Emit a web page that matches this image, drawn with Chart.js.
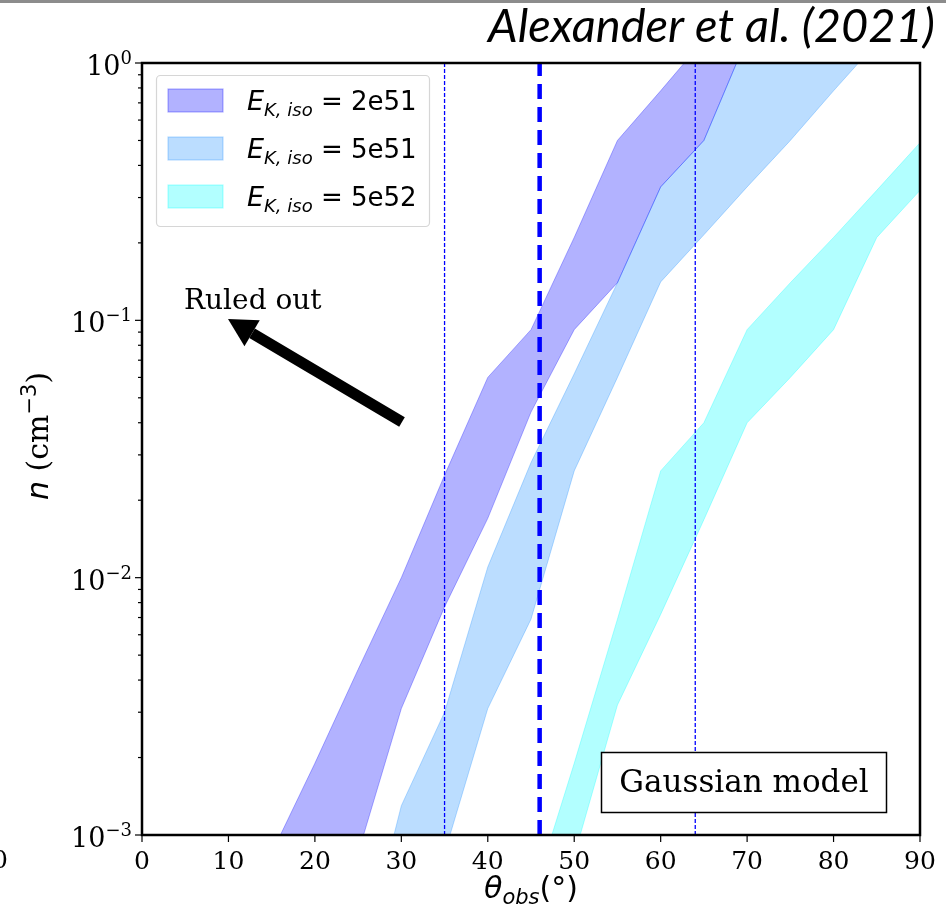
<!DOCTYPE html>
<html>
<head>
<meta charset="utf-8">
<script src="https://cdn.jsdelivr.net/npm/chart.js@4.4.1/dist/chart.umd.min.js"></script>
<style>
  html, body { margin: 0; padding: 0; background: #fff; }
  canvas { display: block; }
</style>
</head>
<body>
<canvas id="densityChart" width="946" height="914"></canvas>
<script>
// allowed density band (cm^-3) vs viewing angle (deg), one per E_K,iso
const angles2e51 = [15, 20, 25, 30, 35, 40, 45, 50, 55, 60, 65, 70]
const upper2e51 = [0.00085, 0.0019, 0.0044, 0.010, 0.025, 0.060, 0.092, 0.21, 0.50, 0.78, 1.23, 1.9]
const lower2e51 = [0.00006, 0.00023, 0.00085, 0.0031, 0.0077, 0.017, 0.044, 0.092, 0.14, 0.33, 0.50, 1.25]

const angles5e51 = [25, 30, 35, 40, 45, 50, 55, 60, 65, 70, 75, 80, 85]
const upper5e51 = [0.00028, 0.0013, 0.003, 0.011, 0.028, 0.062, 0.14, 0.33, 0.50, 1.25, 2, 3, 4]
const lower5e51 = [0.00003, 0.00025, 0.00085, 0.0031, 0.0069, 0.026, 0.06, 0.141, 0.215, 0.33, 0.50, 0.78, 1.2]

const angles5e52 = [45, 50, 55, 60, 65, 70, 75, 80, 85, 90]
const upper5e52 = [0.00055, 0.0019, 0.0069, 0.026, 0.04, 0.092, 0.14, 0.21, 0.32, 0.49]
const lower5e52 = [0.0001, 0.00083, 0.0032, 0.0072, 0.0168, 0.04, 0.06, 0.092, 0.21, 0.32]

const energyLabels = ["2e51", "5e51", "5e52"]

// viewing angle constraints
const limitAngles = [35, 64]
const bestAngle = 46
const nRange = [0.001, 1]

// axis ticks
const angleTicks = [0, 10, 20, 30, 40, 50, 60, 70, 80, 90]
const densityTicks = [0.001, 0.01, 0.1, 1]

const bandColors = ["rgba(0, 0, 255, 0.3)", "rgba(30, 144, 255, 0.3)", "rgba(0, 255, 255, 0.3)"]

const toPoints = (xs, ys) => xs.map((x, i) => ({ x: x, y: ys[i] }))

function bandSets(xs, up, low, color, name) {
  return [
    { label: name, data: toPoints(xs, up), borderColor: color, backgroundColor: color, borderWidth: 1, fill: "+1" },
    { label: name + " low", data: toPoints(xs, low), borderColor: color, borderWidth: 1, fill: false },
  ]
}

const vlines = limitAngles.map((a) => ({
  data: nRange.map((n) => ({ x: a, y: n })),
  borderColor: "#0000ff",
  borderWidth: 1.3,
  borderDash: [4, 2],
  fill: false,
}))
vlines.push({
  data: nRange.map((n) => ({ x: bestAngle, y: n })),
  borderColor: "#0000ff",
  borderWidth: 4.5,
  borderDash: [15, 8],
  fill: false,
})

function drawRuns(ctx, x, y, runs) {
  let cx = x
  runs.forEach((r) => {
    ctx.font = r.font
    ctx.fillText(r.text, cx, y + (r.dy || 0))
    cx += ctx.measureText(r.text).width
  })
  return cx
}
function runsWidth(ctx, runs) {
  let w = 0
  runs.forEach((r) => {
    ctx.font = r.font
    w += ctx.measureText(r.text).width
  })
  return w
}
function seg(ctx, x1, y1, x2, y2) {
  ctx.beginPath()
  ctx.moveTo(x1, y1)
  ctx.lineTo(x2, y2)
  ctx.stroke()
}

const decor = {
  id: "decor",
  afterDraw(chart) {
    const { ctx, chartArea: a } = chart
    const x = chart.scales.x
    const y = chart.scales.y
    ctx.save()
    ctx.fillStyle = "#000"
    ctx.strokeStyle = "#000"
    ctx.textAlign = "left"
    ctx.textBaseline = "alphabetic"

    // top grey strip and citation
    ctx.fillStyle = "#8c8c8c"
    ctx.fillRect(0, 0, 946, 3)
    ctx.fillStyle = "#000"
    ctx.font = "italic 47px Lato"
    ctx.textAlign = "right"
    ctx.fillText("Alexander et al. (2021)", 935, 42, 447)
    ctx.textAlign = "left"

    // frame
    ctx.lineWidth = 2.5
    ctx.strokeRect(a.left, a.top, a.right - a.left, a.bottom - a.top)

    // x ticks
    ctx.lineWidth = 1.2
    ctx.font = '25px "DejaVu Serif"'
    ctx.textAlign = "center"
    angleTicks.forEach((v) => {
      const px = x.getPixelForValue(v)
      seg(ctx, px, a.bottom, px, a.bottom + 7)
      ctx.fillText(String(v), px, a.bottom + 34)
    })
    ctx.textAlign = "left"

    // y ticks, minor then major
    for (let i = 0; i < densityTicks.length - 1; i++) {
      for (let m = 2; m <= 9; m++) {
        const py = y.getPixelForValue(densityTicks[i] * m)
        seg(ctx, a.left - 4, py, a.left, py)
      }
    }
    densityTicks.forEach((v) => {
      const py = y.getPixelForValue(v)
      seg(ctx, a.left - 7, py, a.left, py)
      const exp = String(Math.round(Math.log10(v))).replace("-", "\u2212")
      const runs = [
        { text: "10", font: '27px "DejaVu Serif"' },
        { text: exp, font: '18px "DejaVu Serif"', dy: -11 },
      ]
      const w = runsWidth(ctx, runs)
      drawRuns(ctx, a.left - 10 - w, py + 12, runs)
    })
    // stray label from the neighbouring panel
    ctx.font = '25px "DejaVu Serif"'
    ctx.fillText("0", -8, 868)

    // axis titles
    const xt = [
      { text: "\u03b8", font: 'italic 30px "DejaVu Sans"' },
      { text: "obs", font: 'italic 21px "DejaVu Sans"', dy: 6 },
      { text: "(\u00b0)", font: '30px "DejaVu Sans"' },
    ]
    drawRuns(ctx, (a.left + a.right) / 2 - runsWidth(ctx, xt) / 2, 898, xt)

    const yt = [
      { text: "n", font: 'italic 30px "DejaVu Sans"' },
      { text: " (cm", font: '30px "DejaVu Serif"' },
      { text: "\u22123", font: '21px "DejaVu Sans"', dy: -12 },
      { text: ")", font: '30px "DejaVu Serif"' },
    ]
    ctx.save()
    ctx.translate(48, 436)
    ctx.rotate(-Math.PI / 2)
    drawRuns(ctx, -runsWidth(ctx, yt) / 2, 0, yt)
    ctx.restore()

    // legend
    ctx.beginPath()
    ctx.roundRect(156.5, 75.5, 273, 151, 4)
    ctx.fillStyle = "rgba(255,255,255,0.85)"
    ctx.fill()
    ctx.strokeStyle = "#d6d6d6"
    ctx.lineWidth = 1.2
    ctx.stroke()
    energyLabels.forEach((lab, i) => {
      const top = 89 + i * 48
      ctx.fillStyle = bandColors[i]
      ctx.strokeStyle = bandColors[i]
      ctx.fillRect(168, top, 55, 23)
      ctx.strokeRect(168, top, 55, 23)
      ctx.fillStyle = "#000"
      drawRuns(ctx, 247, top + 21, [
        { text: "E", font: 'italic 27px "DejaVu Sans"' },
        { text: "K, iso", font: 'italic 18px "DejaVu Sans"', dy: 6 },
        { text: " = " + lab, font: '26px "DejaVu Sans"' },
      ])
    })

    // annotation: ruled out arrow
    ctx.fillStyle = "#000"
    ctx.font = '28px "DejaVu Serif"'
    ctx.fillText("Ruled out", 184, 309)
    const tail = [402, 422]
    const tip = [228, 319]
    const dx = tip[0] - tail[0]
    const dy = tip[1] - tail[1]
    const len = Math.hypot(dx, dy)
    const ux = dx / len
    const uy = dy / len
    const hl = 28
    const hw = 15
    const bx = tip[0] - ux * hl
    const by = tip[1] - uy * hl
    ctx.strokeStyle = "#000"
    ctx.lineWidth = 11
    ctx.lineCap = "butt"
    seg(ctx, tail[0], tail[1], bx, by)
    ctx.beginPath()
    ctx.moveTo(tip[0], tip[1])
    ctx.lineTo(bx - uy * hw, by + ux * hw)
    ctx.lineTo(bx + uy * hw, by - ux * hw)
    ctx.closePath()
    ctx.fill()

    // model box
    ctx.fillStyle = "#fff"
    ctx.fillRect(601, 752, 285, 60)
    ctx.strokeStyle = "#000"
    ctx.lineWidth = 1.5
    ctx.strokeRect(601.5, 752.5, 285, 60)
    ctx.fillStyle = "#000"
    ctx.font = '31px "DejaVu Serif"'
    ctx.textAlign = "center"
    ctx.fillText("Gaussian model", 744, 792)

    ctx.restore()
  },
}

const datasets = vlines.concat(
  bandSets(angles2e51, upper2e51, lower2e51, bandColors[0], "2e51"),
  bandSets(angles5e51, upper5e51, lower5e51, bandColors[1], "5e51"),
  bandSets(angles5e52, upper5e52, lower5e52, bandColors[2], "5e52")
)

new Chart(document.getElementById("densityChart"), {
  type: "line",
  data: { datasets: datasets },
  options: {
    responsive: false,
    animation: false,
    layout: { padding: { left: 142, right: 26, top: 63, bottom: 79 } },
    plugins: {
      legend: { display: false },
      tooltip: { enabled: false },
    },
    elements: {
      point: { radius: 0 },
      line: { tension: 0 },
    },
    scales: {
      x: { type: "linear", min: 0, max: 90, display: false },
      y: { type: "logarithmic", min: 0.001, max: 1, display: false },
    },
  },
  plugins: [decor],
})
</script>
</body>
</html>
